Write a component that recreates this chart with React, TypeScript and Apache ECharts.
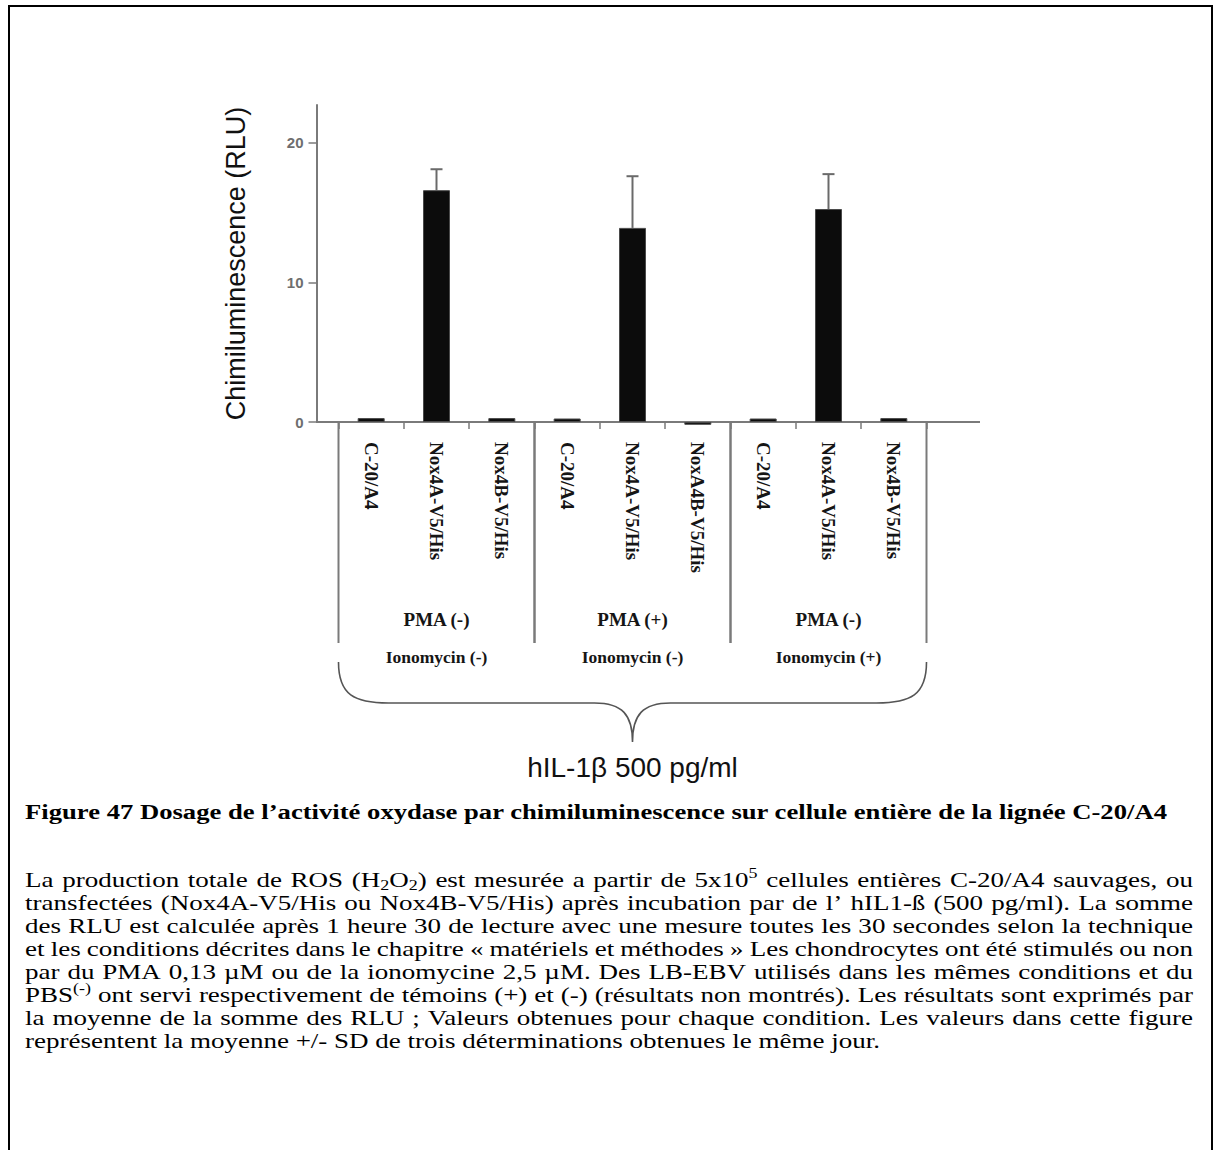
import React, { useEffect, useRef } from 'react';
import * as echarts from 'echarts';

// ---------- data ----------
const categories = [
  'C-20/A4', 'Nox4A-V5/His', 'Nox4B-V5/His',
  'C-20/A4', 'Nox4A-V5/His', 'NoxA4B-V5/His',
  'C-20/A4', 'Nox4A-V5/His', 'Nox4B-V5/His',
];
const meanRLU = [0.28, 16.6, 0.28, 0.25, 13.9, -0.2, 0.25, 15.25, 0.28];
const sdRLU = [0, 1.5, 0, 0, 3.7, 0, 0, 2.5, 0];
const yTickValues = [0, 10, 20];
const groupStart = [0, 3, 6];
const pmaLabels = ['PMA (-)', 'PMA (+)', 'PMA (-)'];
const ionoLabels = ['Ionomycin (-)', 'Ionomycin (-)', 'Ionomycin (+)'];
const treatmentLabel = 'hIL-1\u03b2 500 pg/ml';
const yAxisTitle = 'Chimiluminescence (RLU)';
const captionTitle =
  'Figure 47 Dosage de l\u2019activit\u00e9 oxydase par chimiluminescence sur cellule enti\u00e8re de la lign\u00e9e C-20/A4';
const captionLines = [
  'La production totale de ROS (H_{2}O_{2}) est mesur\u00e9e a partir de 5x10^{5} cellules enti\u00e8res C-20/A4 sauvages, ou',
  'transfect\u00e9es (Nox4A-V5/His ou Nox4B-V5/His) apr\u00e8s incubation par de l\u2019 hIL1-\u00df (500 pg/ml). La somme',
  'des RLU est calcul\u00e9e apr\u00e8s 1 heure 30 de lecture avec une mesure toutes les 30 secondes selon la technique',
  'et les conditions d\u00e9crites dans le chapitre \u00ab mat\u00e9riels et m\u00e9thodes \u00bb Les chondrocytes ont \u00e9t\u00e9 stimul\u00e9s ou non',
  'par du PMA 0,13 \u00b5M ou de la ionomycine 2,5 \u00b5M. Des LB-EBV utilis\u00e9s dans les m\u00eames conditions et du',
  'PBS^{(-)} ont servi respectivement de t\u00e9moins (+) et (-) (r\u00e9sultats non montr\u00e9s). Les r\u00e9sultats sont exprim\u00e9s par',
  'la moyenne de la somme des RLU ; Valeurs obtenues pour chaque condition. Les valeurs dans cette figure',
  'repr\u00e9sentent la moyenne +/- SD de trois d\u00e9terminations obtenues le m\u00eame jour.',
];

// ---------- styles ----------
const SANS = '"Liberation Sans", Arial, sans-serif';
const SERIF = '"Liberation Serif", "Times New Roman", serif';
const AXIS_GREY = '#7a7a7a';

type Seg = { t: string; k: 'n' | 'sub' | 'sup' };

function parseWord(w: string): Seg[] {
  const out: Seg[] = [];
  w.split(/(_\{[^}]*\}|\^\{[^}]*\})/).forEach((p) => {
    if (!p) return;
    if (p.startsWith('_{')) out.push({ t: p.slice(2, -1), k: 'sub' });
    else if (p.startsWith('^{')) out.push({ t: p.slice(2, -1), k: 'sup' });
    else out.push({ t: p, k: 'n' });
  });
  return out;
}

export default function App() {
  const ref = useRef<HTMLDivElement>(null);

  useEffect(() => {
    if (!ref.current) return;
    const chart = echarts.init(ref.current, null, { renderer: 'svg' });

    const canvas = document.createElement('canvas');
    const ctx = canvas.getContext('2d')!;
    const measure = (t: string, size: number, weight: string) => {
      ctx.font = `${weight} ${size}px "Liberation Serif"`;
      return ctx.measureText(t).width;
    };

    const PF = 21;
    const SMALL = 14;
    const LEFT = 25;
    const RIGHT = 1193;
    const TOP0 = 880;
    const PITCH = 23;
    const segSize = (s: Seg) => (s.k === 'n' ? PF : SMALL);

    // horizontal stretch of the scanned text, fitted on the last (unjustified) line
    const lastWords = captionLines[captionLines.length - 1].split(' ').map(parseWord);
    const lastNatural =
      lastWords.reduce(
        (acc, ws) => acc + ws.reduce((a, s) => a + measure(s.t, segSize(s), 'normal'), 0),
        0
      ) +
      measure(' ', PF, 'normal') * (lastWords.length - 1);
    const SX = (880 - LEFT) / lastNatural;
    const SXB = (1168 - LEFT) / measure(captionTitle, PF, 'bold');

    const textEls: any[] = [];

    textEls.push({
      type: 'text',
      x: LEFT,
      y: 812,
      scaleX: SXB,
      silent: true,
      style: {
        text: captionTitle,
        fontFamily: SERIF,
        fontSize: PF,
        fontWeight: 'bold',
        fill: '#000',
        textAlign: 'left',
        textVerticalAlign: 'middle',
        align: 'left',
        verticalAlign: 'middle',
      },
    });

    captionLines.forEach((line, li) => {
      const words = line.split(' ').map(parseWord);
      const widths = words.map(
        (ws) => ws.reduce((acc, s) => acc + measure(s.t, segSize(s), 'normal'), 0) * SX
      );
      const total = widths.reduce((a, b) => a + b, 0);
      const last = li === captionLines.length - 1;
      const gap = last
        ? measure(' ', PF, 'normal') * SX
        : (RIGHT - LEFT - total) / (words.length - 1);
      let x = LEFT;
      const y = TOP0 + li * PITCH;
      words.forEach((ws, wi) => {
        let sx = x;
        ws.forEach((s) => {
          const size = segSize(s);
          textEls.push({
            type: 'text',
            x: sx,
            y: y + (s.k === 'sub' ? 5 : s.k === 'sup' ? -7 : 0),
            scaleX: SX,
            silent: true,
            style: {
              text: s.t,
              fontFamily: SERIF,
              fontSize: size,
              fill: '#000',
              textAlign: 'left',
              textVerticalAlign: 'middle',
              align: 'left',
              verticalAlign: 'middle',
            },
          });
          sx += measure(s.t, size, 'normal') * SX;
        });
        x += widths[wi] + gap;
      });
    });

    const option: any = {
      animation: false,
      backgroundColor: '#ffffff',
      grid: {
        left: 338.5,
        right: 292.5,
        top: 105,
        bottom: 728,
        outerBoundsMode: 'none',
        containLabel: false,
      },
      xAxis: {
        type: 'category',
        data: categories,
        axisLine: { show: true, lineStyle: { color: AXIS_GREY, width: 2 } },
        axisTick: {
          show: true,
          interval: 0,
          length: 7,
          lineStyle: { color: AXIS_GREY, width: 1.5 },
        },
        axisLabel: {
          interval: 0,
          rotate: -90,
          margin: 20,
          fontFamily: SERIF,
          fontWeight: 'bold',
          fontSize: 19,
          color: '#151515',
        },
        splitLine: { show: false },
      },
      yAxis: {
        type: 'value',
        min: 0,
        max: 22.7,
        interval: 10,
        offset: 22,
        name: yAxisTitle,
        nameLocation: 'middle',
        nameRotate: 90,
        nameGap: 67,
        nameTextStyle: { fontFamily: SANS, fontSize: 27, color: '#111' },
        axisLine: { show: true, lineStyle: { color: AXIS_GREY, width: 2 } },
        axisTick: {
          show: true,
          length: 8,
          customValues: yTickValues,
          lineStyle: { color: AXIS_GREY, width: 1.5 },
        },
        axisLabel: {
          customValues: yTickValues,
          color: '#6e6e6e',
          fontSize: 15,
          fontWeight: 'bold',
          fontFamily: SANS,
          margin: 13,
        },
        splitLine: { show: false },
      },
      graphic: [
        {
          type: 'rect',
          silent: true,
          shape: { x: 9, y: 6, width: 1203, height: 1170 },
          style: { fill: 'none', stroke: '#000', lineWidth: 2 },
        },
        {
          type: 'line',
          silent: true,
          shape: { x1: 316, y1: 422, x2: 980, y2: 422 },
          style: { stroke: AXIS_GREY, lineWidth: 2 },
        },
        ...textEls,
      ],
      series: [
        {
          type: 'custom',
          z: 2,
          silent: true,
          data: meanRLU.map((v, i) => [i, v, sdRLU[i]]),
          encode: { x: 0, y: 1 },
          renderItem: (params: any, api: any) => {
            const i = api.value(0);
            const v = api.value(1);
            const e = api.value(2);
            if (!e) return null;
            const p0 = api.coord([i, v]);
            const p1 = api.coord([i, v + e]);
            const st = { stroke: '#6a6a6a', lineWidth: 2 };
            return {
              type: 'group',
              children: [
                { type: 'line', shape: { x1: p0[0], y1: p0[1], x2: p1[0], y2: p1[1] }, style: st },
                { type: 'line', shape: { x1: p1[0] - 6, y1: p1[1], x2: p1[0] + 6, y2: p1[1] }, style: st },
              ],
            };
          },
        },
        {
          type: 'bar',
          data: meanRLU,
          barWidth: 27,
          clip: false,
          z: 3,
          itemStyle: { color: '#0c0c0c', borderColor: '#4a4a4a', borderWidth: 1 },
        },
        {
          type: 'custom',
          silent: true,
          data: groupStart.map((s) => [s, 0]),
          encode: { x: 0, y: 1 },
          renderItem: (params: any, api: any) => {
            const g = params.dataIndex;
            const s = api.value(0);
            const bw = api.size([1, 0])[0];
            const a = api.coord([s, 0]);
            const b = api.coord([s + 2, 0]);
            const L = a[0] - bw / 2;
            const R = b[0] + bw / 2;
            const y0 = a[1];
            const cx = (L + R) / 2;
            const st = { stroke: AXIS_GREY, lineWidth: 2 };
            const txt = (t: string, y: number, size: number) => ({
              type: 'text',
              x: cx,
              y,
              style: {
                text: t,
                fontFamily: SERIF,
                fontWeight: 'bold',
                fontSize: size,
                fill: '#151515',
                textAlign: 'center',
                textVerticalAlign: 'middle',
                align: 'center',
                verticalAlign: 'middle',
              },
            });
            return {
              type: 'group',
              children: [
                { type: 'line', shape: { x1: L, y1: y0, x2: L, y2: y0 + 221 }, style: st },
                { type: 'line', shape: { x1: R, y1: y0, x2: R, y2: y0 + 221 }, style: st },
                txt(pmaLabels[g], y0 + 197, 19),
                txt(ionoLabels[g], y0 + 235, 17.5),
              ],
            };
          },
        },
        {
          type: 'custom',
          silent: true,
          data: [[0, 0]],
          encode: { x: 0, y: 1 },
          renderItem: (params: any, api: any) => {
            const bw = api.size([1, 0])[0];
            const a = api.coord([0, 0]);
            const b = api.coord([categories.length - 1, 0]);
            const L = a[0] - bw / 2;
            const R = b[0] + bw / 2;
            const M = (L + R) / 2;
            const y0 = a[1];
            const T = y0 + 240;
            const H = y0 + 281;
            const Tip = y0 + 320;
            const d =
              `M${L},${T} C${L},${H - 8} ${L + 16},${H} ${L + 50},${H} ` +
              `L${M - 38},${H} C${M - 10},${H} ${M},${H + 12} ${M},${Tip} ` +
              `C${M},${H + 12} ${M + 10},${H} ${M + 38},${H} ` +
              `L${R - 50},${H} C${R - 16},${H} ${R},${H - 8} ${R},${T}`;
            return {
              type: 'group',
              children: [
                {
                  type: 'path',
                  shape: { pathData: d },
                  style: { stroke: '#555', fill: 'none', lineWidth: 1.6 },
                },
                {
                  type: 'text',
                  x: M,
                  y: y0 + 345,
                  style: {
                    text: treatmentLabel,
                    fontFamily: SANS,
                    fontSize: 28,
                    fill: '#111',
                    textAlign: 'center',
                    textVerticalAlign: 'middle',
                    align: 'center',
                    verticalAlign: 'middle',
                  },
                },
              ],
            };
          },
        },
      ],
    };

    chart.setOption(option);
    return () => chart.dispose();
  }, []);

  return (
    <div
      ref={ref}
      style={{ position: 'absolute', left: 0, top: 0, width: 1219, height: 1150, background: '#fff' }}
    />
  );
}
